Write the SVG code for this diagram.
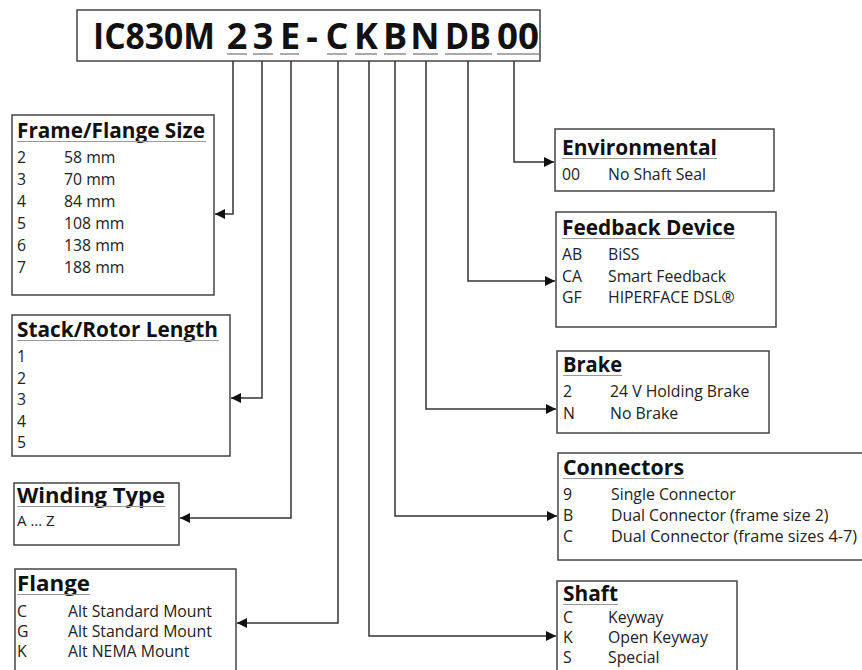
<svg xmlns="http://www.w3.org/2000/svg" width="862" height="670" viewBox="0 0 862 670">
<style>
.box{fill:#fff;stroke:#444;stroke-width:1.5}
.h{font-family:"Open Sans","Noto Sans",sans-serif;font-weight:bold;font-size:21px;fill:#111}
.t{font-family:"Open Sans","Noto Sans",sans-serif;font-size:15.8px;fill:#222}
.ul{stroke:#999;stroke-width:1.2}
.cu{stroke:#aaa;stroke-width:2}
.title{font-family:"Open Sans","Noto Sans",sans-serif;font-weight:bold;font-size:36px;fill:#111;text-anchor:middle}
.c{fill:none;stroke:#333;stroke-width:1.5}
</style>
<defs>
<marker id="ah" viewBox="0 0 10 10" refX="10" refY="5" markerWidth="10" markerHeight="10" markerUnits="userSpaceOnUse" orient="auto">
<path d="M0,0 L10,5 L0,10 z" fill="#111"/>
</marker>
</defs>
<rect width="862" height="670" fill="#fff"/>

<g id="title">
<rect class="box" x="77" y="10" width="463" height="51"/>
<text class="title" x="154" y="49" textLength="122" lengthAdjust="spacingAndGlyphs">IC830M</text>
<text class="title" x="237" y="49">2</text>
<text class="title" x="263" y="49">3</text>
<text class="title" x="290" y="49">E</text>
<text class="title" x="312" y="49">-</text>
<text class="title" x="337" y="49">C</text>
<text class="title" x="366" y="49">K</text>
<text class="title" x="395" y="49">B</text>
<text class="title" x="425" y="49">N</text>
<text class="title" x="468" y="49" textLength="46" lengthAdjust="spacingAndGlyphs">DB</text>
<text class="title" x="518" y="49" textLength="42" lengthAdjust="spacingAndGlyphs">00</text>
<line class="cu" x1="227" y1="54" x2="247" y2="54"/>
<line class="cu" x1="253" y1="54" x2="273" y2="54"/>
<line class="cu" x1="280" y1="54" x2="299" y2="54"/>
<line class="cu" x1="327" y1="54" x2="347" y2="54"/>
<line class="cu" x1="355" y1="54" x2="377" y2="54"/>
<line class="cu" x1="384" y1="54" x2="406" y2="54"/>
<line class="cu" x1="413" y1="54" x2="438" y2="54"/>
<line class="cu" x1="445" y1="54" x2="492" y2="54"/>
<line class="cu" x1="497" y1="54" x2="539" y2="54"/>
</g>

<g id="connectors">
<polyline class="c" points="233,61 233,214 215,214" marker-end="url(#ah)"/>
<polyline class="c" points="262,61 262,398 231,398" marker-end="url(#ah)"/>
<polyline class="c" points="291,61 291,518 180,518" marker-end="url(#ah)"/>
<polyline class="c" points="338,61 338,623 237,623" marker-end="url(#ah)"/>
<polyline class="c" points="369,61 369,636 556,636" marker-end="url(#ah)"/>
<polyline class="c" points="395,61 395,516 557,516" marker-end="url(#ah)"/>
<polyline class="c" points="426,61 426,409 556,409" marker-end="url(#ah)"/>
<polyline class="c" points="468,61 468,281 555,281" marker-end="url(#ah)"/>
<polyline class="c" points="514,61 514,162 554,162" marker-end="url(#ah)"/>
</g>

<g id="frame">
<rect class="box" x="12" y="115" width="202" height="180"/>
<text class="h" x="17" y="138" textLength="188" lengthAdjust="spacingAndGlyphs">Frame/Flange Size</text>
<line class="ul" x1="17" y1="141.5" x2="206" y2="141.5"/>
<text class="t" x="17" y="163">2</text><text class="t" x="64" y="163">58 mm</text>
<text class="t" x="17" y="185">3</text><text class="t" x="64" y="185">70 mm</text>
<text class="t" x="17" y="207">4</text><text class="t" x="64" y="207">84 mm</text>
<text class="t" x="17" y="229">5</text><text class="t" x="64" y="229">108 mm</text>
<text class="t" x="17" y="251">6</text><text class="t" x="64" y="251">138 mm</text>
<text class="t" x="17" y="273">7</text><text class="t" x="64" y="273">188 mm</text>
</g>

<g id="stack">
<rect class="box" x="12" y="315" width="218" height="141"/>
<text class="h" x="17" y="337" textLength="201" lengthAdjust="spacingAndGlyphs">Stack/Rotor Length</text>
<line class="ul" x1="17" y1="340.5" x2="219" y2="340.5"/>
<text class="t" x="17" y="362">1</text>
<text class="t" x="17" y="384">2</text>
<text class="t" x="17" y="405">3</text>
<text class="t" x="17" y="427">4</text>
<text class="t" x="17" y="448">5</text>
</g>

<g id="winding">
<rect class="box" x="14" y="483" width="165" height="62"/>
<text class="h" x="17" y="503" textLength="148" lengthAdjust="spacingAndGlyphs">Winding Type</text>
<line class="ul" x1="17" y1="506.5" x2="165" y2="506.5"/>
<text class="t" x="17" y="526" style="font-size:15px">A ... Z</text>
</g>

<g id="flange">
<rect class="box" x="15" y="569" width="221" height="110"/>
<text class="h" x="17" y="591" textLength="73" lengthAdjust="spacingAndGlyphs">Flange</text>
<line class="ul" x1="17" y1="594.5" x2="90" y2="594.5"/>
<text class="t" x="17" y="617">C</text><text class="t" x="68" y="617">Alt Standard Mount</text>
<text class="t" x="17" y="637">G</text><text class="t" x="68" y="637">Alt Standard Mount</text>
<text class="t" x="17" y="657">K</text><text class="t" x="68" y="657">Alt NEMA Mount</text>
</g>

<g id="environmental">
<rect class="box" x="555" y="129" width="219" height="62"/>
<text class="h" x="562" y="155" textLength="155" lengthAdjust="spacingAndGlyphs">Environmental</text>
<line class="ul" x1="562" y1="158.5" x2="717" y2="158.5"/>
<text class="t" x="562" y="180">00</text><text class="t" x="608" y="180">No Shaft Seal</text>
</g>

<g id="feedback">
<rect class="box" x="556" y="212" width="220" height="115"/>
<text class="h" x="562" y="235" textLength="173" lengthAdjust="spacingAndGlyphs">Feedback Device</text>
<line class="ul" x1="562" y1="238.5" x2="735" y2="238.5"/>
<text class="t" x="562" y="260">AB</text><text class="t" x="608" y="260">BiSS</text>
<text class="t" x="562" y="282">CA</text><text class="t" x="608" y="282">Smart Feedback</text>
<text class="t" x="562" y="303">GF</text><text class="t" x="608" y="303">HIPERFACE DSL®</text>
</g>

<g id="brake">
<rect class="box" x="557" y="351" width="212" height="82"/>
<text class="h" x="563" y="372" textLength="59" lengthAdjust="spacingAndGlyphs">Brake</text>
<line class="ul" x1="563" y1="375.5" x2="622" y2="375.5"/>
<text class="t" x="563" y="397">2</text><text class="t" x="610" y="397">24 V Holding Brake</text>
<text class="t" x="563" y="419">N</text><text class="t" x="610" y="419">No Brake</text>
</g>

<g id="connectors-box">
<rect class="box" x="558" y="453" width="310" height="107"/>
<text class="h" x="563" y="475" textLength="121" lengthAdjust="spacingAndGlyphs">Connectors</text>
<line class="ul" x1="563" y1="478.5" x2="684" y2="478.5"/>
<text class="t" x="563" y="500">9</text><text class="t" x="611" y="500">Single Connector</text>
<text class="t" x="563" y="521">B</text><text class="t" x="611" y="521">Dual Connector (frame size 2)</text>
<text class="t" x="563" y="542">C</text><text class="t" x="611" y="542" textLength="246" lengthAdjust="spacingAndGlyphs">Dual Connector (frame sizes 4-7)</text>
</g>

<g id="shaft">
<rect class="box" x="557" y="581" width="180" height="100"/>
<text class="h" x="563" y="601" textLength="55" lengthAdjust="spacingAndGlyphs">Shaft</text>
<line class="ul" x1="563" y1="604.5" x2="618" y2="604.5"/>
<text class="t" x="563" y="623">C</text><text class="t" x="608" y="623">Keyway</text>
<text class="t" x="563" y="643">K</text><text class="t" x="608" y="643">Open Keyway</text>
<text class="t" x="563" y="663">S</text><text class="t" x="608" y="663">Special</text>
</g>
</svg>
